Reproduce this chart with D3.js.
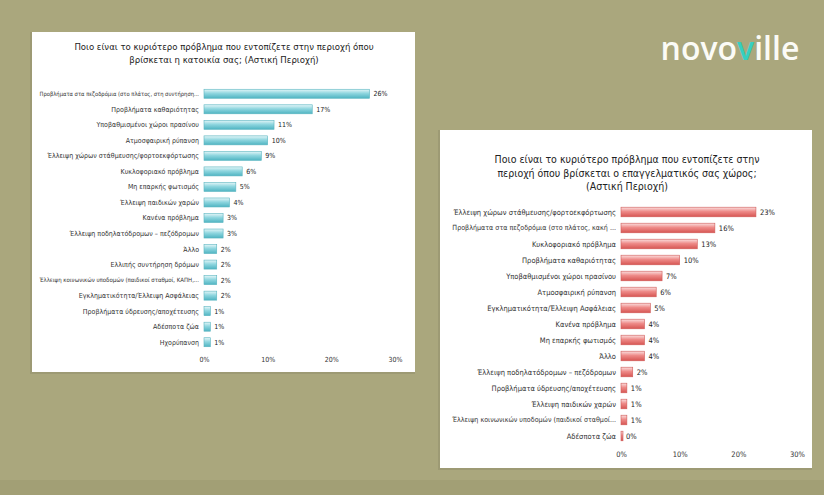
<!DOCTYPE html>
<html><head><meta charset="utf-8">
<script src="https://cdn.jsdelivr.net/npm/d3@7"></script>
<style>body{margin:0;background:#a9a67c;}svg{display:block}</style>
</head><body>
<svg id="c" width="824" height="495"></svg>
<script>
const homeCategories = [
 "Προβλήματα στα πεζοδρόμια (στο πλάτος, στη συντήρηση...",
 "Προβλήματα καθαριότητας",
 "Υποβαθμισμένοι χώροι πρασίνου",
 "Ατμοσφαιρική ρύπανση",
 "Έλλειψη χώρων στάθμευσης/φορτοεκφόρτωσης",
 "Κυκλοφοριακό πρόβλημα",
 "Μη επαρκής φωτισμός",
 "Έλλειψη παιδικών χαρών",
 "Κανένα πρόβλημα",
 "Έλλειψη ποδηλατόδρομων – πεζόδρομων",
 "Άλλο",
 "Ελλιπής συντήρηση δρόμων",
 "Έλλειψη κοινωνικών υποδομών (παιδικοί σταθμοί, ΚΑΠΗ,...",
 "Εγκληματικότητα/Έλλειψη Ασφάλειας",
 "Προβλήματα ύδρευσης/αποχέτευσης",
 "Αδέσποτα ζώα",
 "Ηχορύπανση"
];
const homeValues = [26,17,11,10,9,6,5,4,3,3,2,2,2,2,1,1,1];

const workCategories = [
 "Έλλειψη χώρων στάθμευσης/φορτοεκφόρτωσης",
 "Προβλήματα στα πεζοδρόμια (στο πλάτος, κακή ...",
 "Κυκλοφοριακό πρόβλημα",
 "Προβλήματα καθαριότητας",
 "Υποβαθμισμένοι χώροι πρασίνου",
 "Ατμοσφαιρική ρύπανση",
 "Εγκληματικότητα/Έλλειψη Ασφάλειας",
 "Κανένα πρόβλημα",
 "Μη επαρκής φωτισμός",
 "Άλλο",
 "Έλλειψη ποδηλατόδρομων – πεζόδρομων",
 "Προβλήματα ύδρευσης/αποχέτευσης",
 "Έλλειψη παιδικών χαρών",
 "Έλλειψη κοινωνικών υποδομών (παιδικοί σταθμοί...",
 "Αδέσποτα ζώα"
];
const workValues = [23,16,13,10,7,6,5,4,4,4,2,1,1,1,0];

const tickValues = [0,10,20,30];
const homeTitle = ["Ποιο είναι το κυριότερο πρόβλημα που εντοπίζετε στην περιοχή όπου","βρίσκεται η κατοικία σας; (Αστική Περιοχή)"];
const workTitle = ["Ποιο είναι το κυριότερο πρόβλημα που εντοπίζετε στην","περιοχή όπου βρίσκεται ο επαγγελματικός σας χώρος;","(Αστική Περιοχή)"];

const FONT = "'DejaVu Sans Condensed','Liberation Sans Narrow','Liberation Sans',Arial,sans-serif";
const svg = d3.select("#c");
const defs = svg.append("defs");
function grad(id, c1, c2, c3){
  const g = defs.append("linearGradient").attr("id",id).attr("x1",0).attr("y1",0).attr("x2",0).attr("y2",1);
  g.append("stop").attr("offset","0%").attr("stop-color",c1);
  g.append("stop").attr("offset","45%").attr("stop-color",c2);
  g.append("stop").attr("offset","100%").attr("stop-color",c3);
}
grad("gBlue","#e4f6f8","#8fd6df","#4fb4c2");
grad("gRed","#fbe0e0","#ee8a88","#d65552");

svg.append("rect").attr("x",0).attr("y",0).attr("width",824).attr("height",495).attr("fill","#aaa77d");
svg.append("rect").attr("x",0).attr("y",480).attr("width",824).attr("height",15).attr("fill","#a29f75");

const logo = svg.append("text").attr("x",730).attr("y",60).attr("text-anchor","middle")
  .attr("font-family","'Open Sans', sans-serif").attr("font-size",32).attr("font-weight",600).attr("fill","#fbfbf6");
logo.append("tspan").text("novo");
logo.append("tspan").attr("fill","#36cfc0").text("v");
logo.append("tspan").text("ille");

function fit(t, max, fs){
  const w = t.node().getComputedTextLength();
  if (w > max) t.attr("font-size", fs*max/w);
}

function panel(o){
  const g = svg.append("g");
  g.append("rect").attr("x",o.bx-2).attr("y",o.by).attr("width",o.bw+2).attr("height",o.bh+2).attr("fill","#8f8d6c").attr("opacity",0.5);
  g.append("rect").attr("x",o.bx).attr("y",o.by).attr("width",o.bw).attr("height",o.bh).attr("fill","#ffffff");
  o.title.forEach((t,i)=>{
    const tt = g.append("text").attr("x",o.tx).attr("y",o.ty+i*o.tl).attr("text-anchor","middle")
      .attr("font-family",FONT).attr("font-size",o.tfs).attr("fill","#222").text(t);
    fit(tt,o.tmax,o.tfs);
  });
  const x = d3.scaleLinear().domain([0,30]).range([o.x0,o.x1]);
  const y = d3.scaleBand().domain(o.cats).range([o.y0,o.y1]).paddingInner(o.pad).paddingOuter(o.pad/2);
  const bars = g.append("g");
  o.cats.forEach((c,i)=>{
    const v = o.vals[i];
    bars.append("rect").attr("x",x(0)).attr("y",y(c)).attr("width",Math.max(x(v)-x(0),2)).attr("height",y.bandwidth())
      .attr("fill",o.fill).attr("stroke",o.stroke).attr("stroke-width",0.6);
    bars.append("text").attr("x",x(v)+ (v===0?5:4)).attr("y",y(c)+y.bandwidth()/2).attr("dy","0.35em")
      .attr("font-family",FONT).attr("font-size",o.fs).attr("fill","#222").text(v+"%");
    const lt = bars.append("text").attr("x",x(0)-5).attr("y",y(c)+y.bandwidth()/2).attr("dy","0.35em").attr("text-anchor","end")
      .attr("font-family",FONT).attr("font-size",o.fs).attr("fill","#333").text(c);
    fit(lt,o.lmax,o.fs);
  });
  const ax = g.append("g").attr("transform",`translate(0,${o.axy})`)
    .call(d3.axisBottom(x).tickValues(tickValues).tickFormat(d=>d+"%").tickSize(0));
  ax.select(".domain").remove();
  ax.selectAll("text").attr("font-family",FONT).attr("font-size",o.fs).attr("fill","#333");
}

panel({bx:32,by:32,bw:383,bh:340,title:homeTitle,tx:224,ty:50,tl:13,tfs:9.5,tmax:300,
  cats:homeCategories,vals:homeValues,x0:204,x1:395,y0:86,y1:350,pad:0.42,lmax:160,
  fill:"url(#gBlue)",stroke:"#5ab5c0",fs:7,axy:354});

panel({bx:440,by:130,bw:372,bh:338,title:workTitle,tx:627,ty:163,tl:13.5,tfs:10.5,tmax:290,
  cats:workCategories,vals:workValues,x0:621,x1:797,y0:204,y1:444,pad:0.4,lmax:164,
  fill:"url(#gRed)",stroke:"#d05a58",fs:7.5,axy:449});
</script>
</body></html>
